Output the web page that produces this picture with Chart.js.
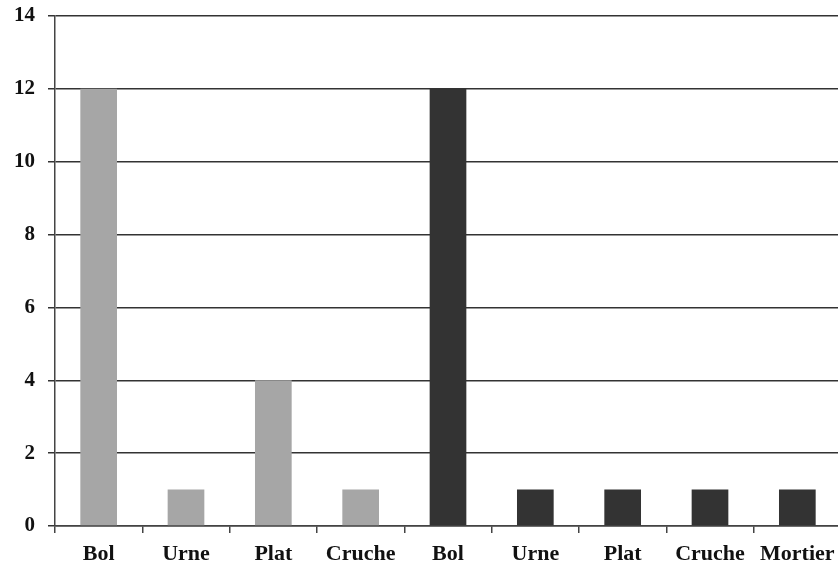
<!DOCTYPE html>
<html>
<head>
<meta charset="utf-8">
<script src="https://cdn.jsdelivr.net/npm/chart.js@4"></script>
<style>
  html, body { margin: 0; padding: 0; background: #fff; overflow: hidden; }
  #wrap { width: 838px; height: 568px; overflow: hidden; }
</style>
</head>
<body>
<div id="wrap"><canvas id="chart" width="844" height="568"></canvas></div>
<script>
const categories = ["Bol", "Urne", "Plat", "Cruche", "Bol", "Urne", "Plat", "Cruche", "Mortier"];
const values = [12, 1, 4, 1, 12, 1, 1, 1, 1];
const barColors = ["#a6a6a6", "#a6a6a6", "#a6a6a6", "#a6a6a6", "#333333", "#333333", "#333333", "#333333", "#333333"];
const yTicks = [0, 2, 4, 6, 8, 10, 12, 14];

const ctx = document.getElementById("chart");
new Chart(ctx, {
  type: "bar",
  data: {
    labels: categories,
    datasets: [
      {
        data: values,
        backgroundColor: barColors,
        borderWidth: 0,
        barPercentage: 0.42,
        categoryPercentage: 1,
      },
    ],
  },
  options: {
    responsive: false,
    animation: false,
    layout: { padding: { top: 16, right: 3, left: 0, bottom: 0 } },
    plugins: { legend: { display: false }, tooltip: { enabled: false } },
    scales: {
      x: {
        grid: { drawOnChartArea: false, color: "#444", tickLength: 7, lineWidth: 1.5 },
        border: { color: "#444", width: 1.5 },
        ticks: { color: "#111", padding: 8, font: { family: "Liberation Serif", size: 22, weight: "bold" } },
        afterFit: (scale) => { scale.height = 42; },
      },
      y: {
        min: 0,
        max: 14,
        afterBuildTicks: (scale) => { scale.ticks = yTicks.map((v) => ({ value: v })); },
        grid: { color: "#333", tickLength: 7, lineWidth: 1.5 },
        border: { color: "#444", width: 1.5 },
        ticks: { color: "#111", padding: 13, font: { family: "Liberation Serif", size: 21, weight: "bold" } },
        afterFit: (scale) => {
          scale.width = 55;
          scale.paddingTop = 0;
          scale.paddingBottom = 0;
        },
      },
    },
  },
});
</script>
</body>
</html>
